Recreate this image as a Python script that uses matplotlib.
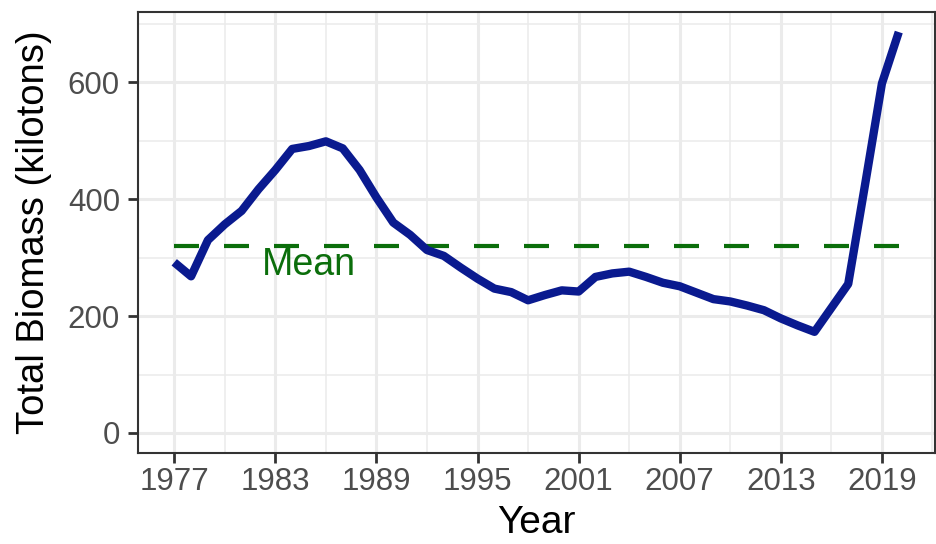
import matplotlib
matplotlib.use("Agg")
import matplotlib.pyplot as plt
import numpy as np

plt.rcParams['font.family'] = ['Liberation Sans', 'DejaVu Sans']

years = list(range(1977, 2021))
biomass = [292, 268, 330, 357, 380, 417, 450, 486, 491, 499,
           487, 450, 403, 360, 339, 313, 303, 283, 264, 247,
           241, 227, 236, 244, 242, 267, 273, 276, 267, 257,
           251, 240, 229, 225, 218, 210, 196, 184, 173, 214,
           255, 425, 598, 686]
mean_value = 320
mean_label = "Mean"
mean_label_pos = (1985, 287)
x_ticks = [1977, 1983, 1989, 1995, 2001, 2007, 2013, 2019]
y_ticks = [0, 200, 400, 600]
x_minor = [1980, 1986, 1992, 1998, 2004, 2010, 2016, 2022]
y_minor = [100, 300, 500, 700]

W, H = 937, 544
fig = plt.figure(figsize=(W / 100, H / 100), dpi=100)
left, right, top, bottom = 138, 935, 12, 453
ax = fig.add_axes([left / W, 1 - bottom / H, (right - left) / W, (bottom - top) / H])

# ggplot-like expansion
xmin, xmax = min(years), max(years)
dx = (xmax - xmin) * 0.05
ax.set_xlim(xmin - dx, xmax + dx)
ymin, ymax = 0, max(biomass)
dy = (ymax - ymin) * 0.05
ax.set_ylim(ymin - dy, ymax + dy)

grid_col = "#EBEBEB"
for v in x_minor:
    ax.axvline(v, color=grid_col, lw=1.1, zorder=0)
for v in y_minor:
    ax.axhline(v, color=grid_col, lw=1.1, zorder=0)
for v in x_ticks:
    ax.axvline(v, color=grid_col, lw=2.2, zorder=0)
for v in y_ticks:
    ax.axhline(v, color=grid_col, lw=2.2, zorder=0)

ax.plot([xmin, xmax], [mean_value, mean_value], color="#0b6e0b", lw=3,
        linestyle=(0, (6, 6)), dash_capstyle="butt", zorder=2)
ax.plot(years, biomass, color="#0a1a8f", lw=6, solid_joinstyle="round",
        solid_capstyle="butt", zorder=3)
ax.text(mean_label_pos[0], mean_label_pos[1], mean_label, color="#0b6e0b",
        fontsize=27, ha="center", va="center", zorder=4)

ax.set_xticks(x_ticks)
ax.set_yticks(y_ticks)
ax.tick_params(axis="both", length=7, width=2, color="#333333",
               labelsize=22.5, labelcolor="#4D4D4D")
ax.tick_params(axis="x", pad=3)
ax.tick_params(axis="y", pad=6)
for s in ax.spines.values():
    s.set_color("#333333")
    s.set_linewidth(1.5)

ax.set_xlabel("Year", fontsize=28, color="black", labelpad=6)
ax.set_ylabel("Total Biomass (kilotons)", fontsize=27.5, color="black", labelpad=11)

fig.savefig("out.png", dpi=100)
